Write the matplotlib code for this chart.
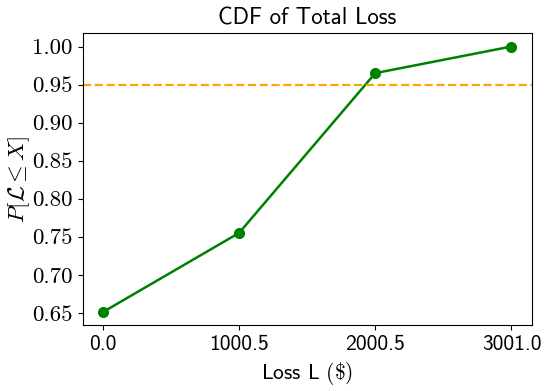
import matplotlib
matplotlib.use('Agg')
import matplotlib.pyplot as plt

loss = [0.0, 1000.5, 2000.5, 3001.0]
cdf = [0.651, 0.755, 0.965, 1.0]
threshold = 0.95

plt.rcParams['mathtext.fontset'] = 'cm'
plt.rcParams['axes.unicode_minus'] = False

fig, ax = plt.subplots(figsize=(5.5, 3.91), dpi=100)

ax.plot(loss, cdf, color='green', marker='o', markersize=7, linewidth=1.8)
ax.axhline(y=threshold, color='orange', linestyle='--', linewidth=1.6)

ax.set_xticks(loss)
ax.set_xticklabels([str(v) for v in loss], family='cmss10', fontsize=15.5)
yt = [0.65, 0.70, 0.75, 0.80, 0.85, 0.90, 0.95, 1.00]
ax.set_yticks(yt)
ax.set_yticklabels(['%.2f' % v for v in yt], family='cmr10', fontsize=16.5)

ax.set_title('CDF of Total Loss', family='cmss10', fontsize=16.5)
ax.set_xlabel(r'Loss L $(\$)$', family='cmss10', fontsize=15.5)
ax.set_ylabel(r'$P[\mathcal{L} \leq X]$', fontsize=16.5)
ax.yaxis.set_label_coords(-0.113, 0.5)

fig.subplots_adjust(left=0.15, right=0.967, top=0.915, bottom=0.168)
fig.savefig('out.png', dpi=100)
